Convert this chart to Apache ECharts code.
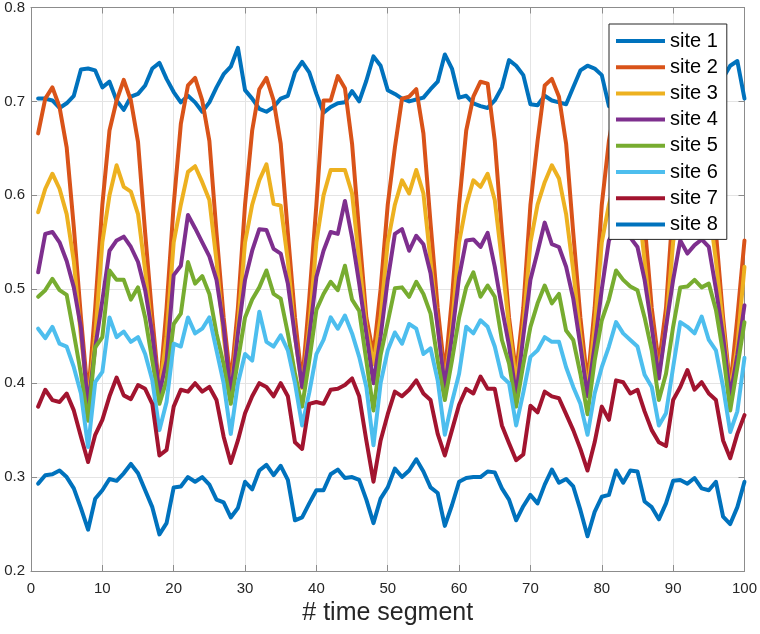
<!DOCTYPE html>
<html>
<head>
<meta charset="utf-8">
<script src="https://cdn.jsdelivr.net/npm/echarts@6/dist/echarts.min.js"></script>
<style>
html,body{margin:0;padding:0;background:#fff;}
#chart{width:760px;height:634px;}
</style>
</head>
<body>
<div id="chart"></div>
<script>
const siteNames = ['site 1','site 2','site 3','site 4','site 5','site 6','site 7','site 8'];
const siteColors = ['#0072BD','#D95319','#EDB120','#7E2F8E','#77AC30','#4DBEEE','#A2142F','#0072BD'];
const xTicks = [0,10,20,30,40,50,60,70,80,90,100];
const yTicks = [0.2,0.3,0.4,0.5,0.6,0.7,0.8];

const site1 = [0.703,0.703,0.701,0.693,0.698,0.706,0.734,0.735,0.733,0.715,
0.721,0.701,0.691,0.705,0.708,0.717,0.735,0.741,0.724,0.710,
0.699,0.706,0.699,0.689,0.699,0.715,0.729,0.737,0.757,0.712,
0.703,0.692,0.689,0.694,0.703,0.706,0.731,0.742,0.731,0.708,
0.688,0.694,0.698,0.699,0.711,0.700,0.722,0.748,0.738,0.712,
0.708,0.703,0.700,0.702,0.704,0.713,0.721,0.750,0.735,0.704,
0.706,0.698,0.695,0.693,0.701,0.715,0.744,0.738,0.728,0.697,
0.696,0.706,0.701,0.699,0.697,0.715,0.733,0.738,0.735,0.728,
0.695,0.700,0.695,0.702,0.706,0.716,0.734,0.740,0.728,0.710,
0.697,0.702,0.694,0.700,0.706,0.712,0.725,0.738,0.743,0.703];

const site2 = [0.666,0.703,0.715,0.694,0.651,0.566,0.470,0.385,0.480,0.590,
0.669,0.701,0.723,0.701,0.657,0.560,0.470,0.390,0.480,0.590,
0.676,0.717,0.725,0.701,0.658,0.560,0.470,0.400,0.480,0.590,
0.669,0.713,0.725,0.701,0.655,0.560,0.470,0.400,0.490,0.590,
0.701,0.701,0.727,0.714,0.655,0.560,0.470,0.430,0.500,0.590,
0.651,0.703,0.705,0.713,0.666,0.570,0.480,0.410,0.490,0.590,
0.669,0.705,0.721,0.719,0.658,0.560,0.470,0.410,0.480,0.590,
0.658,0.717,0.724,0.705,0.655,0.560,0.470,0.400,0.480,0.590,
0.658,0.700,0.720,0.715,0.660,0.570,0.480,0.420,0.480,0.590,
0.670,0.710,0.720,0.700,0.650,0.560,0.470,0.395,0.470,0.552];

const site3 = [0.582,0.607,0.623,0.607,0.580,0.530,0.450,0.380,0.450,0.550,
0.600,0.632,0.609,0.604,0.580,0.520,0.450,0.390,0.450,0.550,
0.590,0.625,0.631,0.614,0.595,0.530,0.450,0.390,0.460,0.550,
0.590,0.616,0.633,0.591,0.589,0.530,0.450,0.395,0.460,0.550,
0.600,0.627,0.627,0.627,0.602,0.530,0.460,0.420,0.470,0.550,
0.590,0.616,0.602,0.627,0.602,0.530,0.460,0.400,0.460,0.550,
0.590,0.616,0.609,0.623,0.595,0.530,0.460,0.400,0.460,0.550,
0.590,0.614,0.632,0.618,0.580,0.520,0.450,0.390,0.460,0.550,
0.590,0.620,0.625,0.610,0.600,0.530,0.460,0.410,0.460,0.550,
0.600,0.620,0.620,0.610,0.590,0.530,0.460,0.390,0.440,0.524];

const site4 = [0.518,0.559,0.561,0.550,0.530,0.502,0.459,0.375,0.438,0.488,
0.541,0.552,0.556,0.545,0.529,0.499,0.453,0.389,0.424,0.515,
0.525,0.579,0.565,0.550,0.535,0.510,0.460,0.386,0.453,0.510,
0.541,0.564,0.563,0.543,0.538,0.506,0.450,0.396,0.450,0.513,
0.541,0.561,0.559,0.594,0.555,0.506,0.453,0.400,0.450,0.510,
0.559,0.564,0.541,0.557,0.548,0.517,0.460,0.396,0.450,0.513,
0.552,0.553,0.545,0.560,0.524,0.480,0.440,0.386,0.450,0.510,
0.540,0.571,0.548,0.545,0.524,0.490,0.440,0.386,0.440,0.500,
0.552,0.565,0.560,0.555,0.545,0.510,0.460,0.405,0.460,0.510,
0.552,0.538,0.547,0.553,0.545,0.500,0.450,0.386,0.430,0.483];

const site5 = [0.492,0.499,0.511,0.499,0.494,0.453,0.410,0.360,0.438,0.449,
0.520,0.510,0.510,0.489,0.502,0.470,0.424,0.378,0.403,0.463,
0.474,0.529,0.506,0.514,0.495,0.453,0.420,0.378,0.424,0.470,
0.489,0.502,0.520,0.495,0.490,0.453,0.410,0.375,0.424,0.478,
0.495,0.508,0.499,0.525,0.489,0.477,0.424,0.371,0.430,0.465,
0.501,0.502,0.492,0.508,0.495,0.474,0.424,0.382,0.424,0.470,
0.502,0.518,0.492,0.504,0.492,0.446,0.421,0.375,0.420,0.460,
0.485,0.504,0.485,0.495,0.456,0.446,0.410,0.367,0.424,0.467,
0.489,0.520,0.510,0.503,0.499,0.470,0.435,0.382,0.410,0.460,
0.502,0.503,0.510,0.502,0.506,0.478,0.432,0.371,0.417,0.465];

const site6 = [0.458,0.448,0.460,0.442,0.439,0.417,0.389,0.332,0.401,0.412,
0.470,0.449,0.455,0.444,0.449,0.431,0.403,0.350,0.380,0.442,
0.439,0.470,0.453,0.458,0.470,0.435,0.400,0.346,0.400,0.431,
0.424,0.476,0.444,0.439,0.451,0.435,0.400,0.355,0.390,0.431,
0.446,0.470,0.458,0.472,0.453,0.428,0.396,0.334,0.400,0.435,
0.454,0.442,0.463,0.458,0.431,0.437,0.403,0.345,0.380,0.410,
0.460,0.453,0.467,0.460,0.439,0.407,0.400,0.355,0.390,0.428,
0.435,0.449,0.444,0.444,0.417,0.396,0.378,0.345,0.389,0.417,
0.439,0.465,0.453,0.446,0.439,0.409,0.396,0.355,0.368,0.417,
0.465,0.460,0.453,0.471,0.446,0.435,0.396,0.348,0.370,0.427];

const site7 = [0.375,0.393,0.382,0.380,0.389,0.371,0.343,0.316,0.345,0.361,
0.386,0.406,0.387,0.383,0.398,0.394,0.378,0.323,0.329,0.375,
0.393,0.391,0.400,0.391,0.396,0.382,0.343,0.315,0.339,0.368,
0.386,0.400,0.396,0.386,0.400,0.386,0.337,0.330,0.378,0.380,
0.378,0.393,0.394,0.398,0.405,0.386,0.339,0.295,0.339,0.367,
0.391,0.386,0.393,0.403,0.389,0.382,0.346,0.323,0.350,0.377,
0.394,0.389,0.407,0.394,0.394,0.355,0.336,0.318,0.324,0.376,
0.369,0.391,0.386,0.384,0.367,0.350,0.330,0.307,0.337,0.375,
0.361,0.403,0.401,0.389,0.393,0.370,0.350,0.337,0.333,0.382,
0.396,0.414,0.393,0.401,0.389,0.382,0.339,0.320,0.346,0.366];

const site8 = [0.293,0.302,0.303,0.307,0.300,0.288,0.267,0.244,0.277,0.286,
0.298,0.296,0.304,0.314,0.304,0.286,0.268,0.239,0.251,0.289,
0.290,0.300,0.295,0.300,0.292,0.276,0.273,0.257,0.267,0.295,
0.287,0.307,0.313,0.302,0.312,0.297,0.254,0.257,0.272,0.286,
0.286,0.303,0.308,0.299,0.300,0.297,0.276,0.251,0.277,0.289,
0.309,0.300,0.307,0.319,0.306,0.289,0.283,0.248,0.270,0.295,
0.299,0.300,0.300,0.306,0.305,0.288,0.276,0.254,0.269,0.281,
0.272,0.292,0.308,0.294,0.298,0.290,0.265,0.237,0.263,0.279,
0.281,0.307,0.294,0.307,0.306,0.274,0.268,0.255,0.272,0.296,
0.297,0.293,0.299,0.288,0.286,0.295,0.258,0.250,0.268,0.295];

const siteData = [site1,site2,site3,site4,site5,site6,site7,site8];

const FONT = '"Liberation Sans", Arial, Helvetica, sans-serif';
const axisGray = '#8c8c8c';
const textGray = '#262626';

const chart = echarts.init(document.getElementById('chart'), null, {renderer:'canvas'});

const series = siteData.map((vals, k) => ({
  name: siteNames[k],
  type: 'line',
  xAxisIndex: 0,
  yAxisIndex: 0,
  showSymbol: false,
  symbol: 'none',
  color: siteColors[k],
  itemStyle: {color: siteColors[k]},
  lineStyle: {width: 4, color: siteColors[k], join: 'round', cap: 'round'},
  emphasis: {disabled: true},
  data: vals.map((v, i) => [i + 1, v])
}));

const common = {
  type: 'value',
  axisLine: {show: true, onZero: false, lineStyle: {color: axisGray, width: 1}},
  axisTick: {show: true, inside: true, length: 6, lineStyle: {color: axisGray, width: 1}}
};

chart.setOption({
  animation: false,
  backgroundColor: '#ffffff',
  color: siteColors,
  grid: {left: 31, right: 15, top: 7, bottom: 63, containLabel: false},
  legend: {
    orient: 'vertical',
    left: 609,
    top: 24,
    data: siteNames,
    icon: 'rect',
    itemWidth: 49,
    itemHeight: 4,
    itemGap: 6.2,
    padding: [7, 9, 5, 7],
    backgroundColor: '#ffffff',
    borderColor: '#262626',
    borderWidth: 1,
    borderRadius: 0,
    selectedMode: false,
    textStyle: {fontFamily: FONT, fontSize: 20, color: '#000000', lineHeight: 20, padding: [0,0,0,0]}
  },
  xAxis: [
    Object.assign({}, common, {
      position: 'bottom', min: xTicks[0], max: xTicks[xTicks.length-1], interval: 10,
      name: '# time segment', nameLocation: 'middle', nameGap: 28,
      nameTextStyle: {fontFamily: FONT, fontSize: 25, color: textGray},
      axisLabel: {show: true, margin: 10, fontFamily: FONT, fontSize: 15, color: textGray,
        formatter: v => String(v)},
      splitLine: {show: true, lineStyle: {color: '#e4e4e4', width: 1}}
    }),
    Object.assign({}, common, {
      position: 'top', min: xTicks[0], max: xTicks[xTicks.length-1], interval: 10,
      axisLabel: {show: false}, splitLine: {show: false}
    })
  ],
  yAxis: [
    Object.assign({}, common, {
      position: 'left', min: yTicks[0], max: yTicks[yTicks.length-1], interval: 0.1,
      axisLabel: {show: true, margin: 6, fontFamily: FONT, fontSize: 15, color: textGray,
        formatter: v => v.toFixed(1)},
      splitLine: {show: true, lineStyle: {color: '#e4e4e4', width: 1}}
    }),
    Object.assign({}, common, {
      position: 'right', min: yTicks[0], max: yTicks[yTicks.length-1], interval: 0.1,
      axisLabel: {show: false}, splitLine: {show: false}
    })
  ],
  series: series
});
</script>
</body>
</html>
